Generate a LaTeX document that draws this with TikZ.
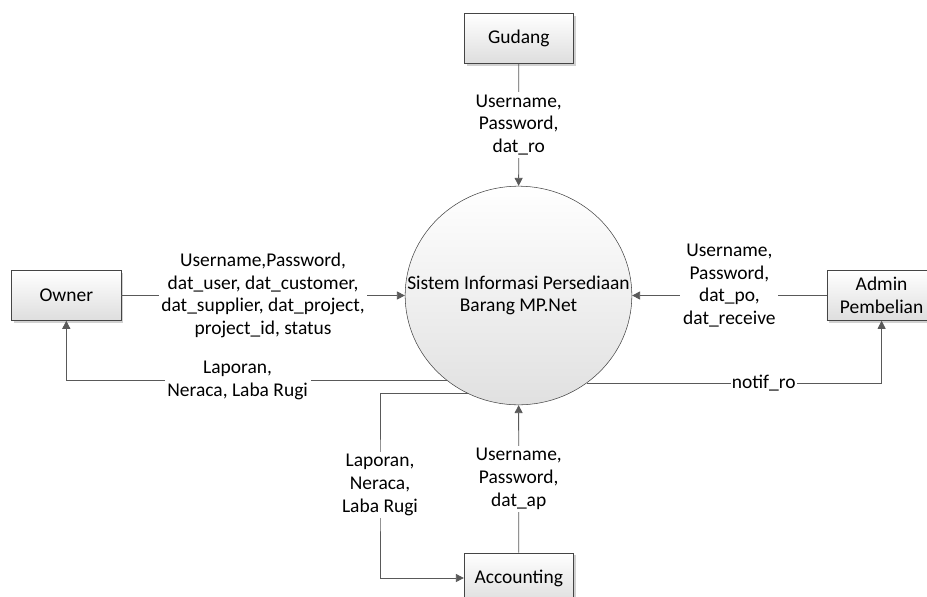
\documentclass[tikz,border=0pt]{standalone}
\usepackage{fontspec}
\setmainfont{Carlito}
\usetikzlibrary{arrows.meta,shapes.geometric,shadows}
\definecolor{linegray}{HTML}{595959}
\definecolor{edgegray}{HTML}{454545}

\begin{document}
\begin{tikzpicture}[x=0.75pt,y=-0.75pt,
	entity/.style={rectangle,draw=edgegray,top color=white,bottom color=black!13,
		drop shadow={shadow xshift=1.8pt,shadow yshift=-1.8pt,fill=black!18,opacity=1},
		minimum width=82pt,minimum height=37.5pt,inner sep=2pt,align=center,
		font=\fontsize{14.6}{17}\selectfont},
	process/.style={ellipse,draw=edgegray,top color=white,bottom color=black!12,
		minimum width=170pt,minimum height=164pt,inner sep=0pt},
	proctext/.style={align=center,font=\fontsize{14.6}{17}\selectfont},
	lbl/.style={fill=white,inner sep=2pt,align=center,font=\fontsize{14.6}{17}\selectfont},
	flow/.style={draw=linegray,line width=0.6pt,-{Triangle[length=6pt,width=6pt]}}]
			\useasboundingbox (0,0) rectangle (927,596);
			%% nodes
			\node[process] (sys) at (518.5,295.5) {};
			\node[proctext] (systxt) at (sys) {Sistem Informasi Persediaan\\Barang MP.Net};
			\node[entity] (gud) at (518.8,38.3) {Gudang};
			\node[entity] (own) at (66.3,295.5) {Owner};
			\node[entity] (adm) at (881.6,295.5) {Admin\\Pembelian};
			\node[entity] (acc) at (518.8,578) {Accounting};
			\coordinate (accbend) at (380,485);
			%% flows in
			\draw[flow] (gud) -- node[lbl] {Username,\\Password,\\dat\_ro} (sys);
			\draw[flow] (own) -- node[lbl] {Username,Password,\\dat\_user, dat\_customer,\\dat\_supplier, dat\_project,\\project\_id, status} (sys);
			\draw[flow] (adm) -- node[lbl,yshift=7.5pt] {Username,\\Password,\\dat\_po,\\dat\_receive} (sys);
			\draw[flow] (acc) -- node[lbl] {Username,\\Password,\\dat\_ap} (sys);
			%% flows out
			\draw[flow] (sys.230) -| node[lbl,pos=0.275] {Laporan,\\Neraca, Laba Rugi} (own);
			\draw[flow] (sys.-52) -| node[lbl,pos=0.3,inner sep=1pt] {notif\_ro} (adm);
			\draw[flow] (sys.243) -| (accbend) node[lbl] {Laporan,\\Neraca,\\Laba Rugi} |- (acc);
		\end{tikzpicture}
\end{document}
